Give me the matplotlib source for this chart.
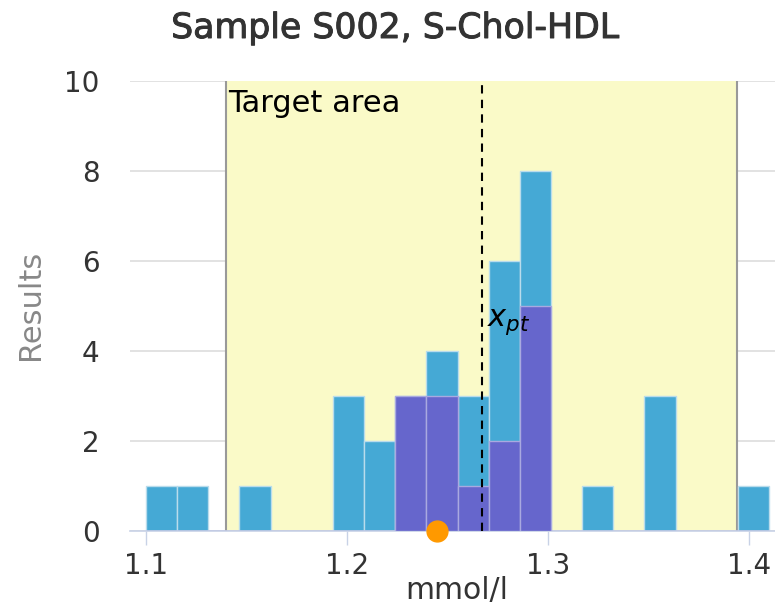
import numpy as np
import matplotlib
matplotlib.use("Agg")
import matplotlib.pyplot as plt
import matplotlib.patheffects as pe

# histogram: 20 bins over 1.10 .. 1.41
bin_lo = 1.10
bin_hi = 1.41
n_bins = 20
all_counts = [1, 1, 0, 1, 0, 0, 3, 2, 3, 4, 3, 6, 8, 0, 1, 0, 3, 0, 0, 1]
sub_counts = [0, 0, 0, 0, 0, 0, 0, 0, 3, 3, 1, 2, 5, 0, 0, 0, 0, 0, 0, 0]

target_lo = 1.14
target_hi = 1.394
x_pt = 1.2673
own_result = 1.2449

title = "Sample S002, S-Chol-HDL"
xlab = "mmol/l"
ylab = "Results"

blue = "#45a9d5"
purple = "#6666cc"
yellow = "#fafac8"

edges = np.linspace(bin_lo, bin_hi, n_bins + 1)
width = edges[1] - edges[0]

fig = plt.figure(figsize=(7.75, 6.15), dpi=100)
ax = fig.add_axes([130/775, 1-531/615, 645/775, 450/615])

ax.set_xlim(1.1 - 16/2010, 1.1 + 629/2010)
ax.set_ylim(0, 10)

for y in range(0, 11, 2):
    ax.axhline(y, color="#dddddd", lw=1.2, zorder=0)

ax.fill_between([target_lo, target_hi], 0, 10, color=yellow, zorder=1, lw=0)
ax.axvline(target_lo, ymin=0, ymax=1, color="#999999", lw=1.5, zorder=1.5)
ax.axvline(target_hi, ymin=0, ymax=1, color="#999999", lw=1.5, zorder=1.5)

ax.bar(edges[:-1], all_counts, width=width, align="edge", color=blue,
       edgecolor="#b9dcec", lw=1, zorder=2)
ax.bar(edges[:-1], sub_counts, width=width, align="edge", color=purple,
       edgecolor="#a9a9e0", lw=1, zorder=3)

ax.axvline(x_pt, color="black", lw=1.5, ls=(0, (4, 3)), zorder=4)
ax.text(x_pt + 0.0025, 4.65, r"$x_{pt}$", fontsize=22, va="center", zorder=5)
ax.text(target_lo + 0.001, 9.5, "Target area", fontsize=22, va="center", zorder=5)

ax.plot([own_result], [0], "o", color="#ff9900", ms=15, clip_on=False, zorder=6)

ax.set_yticks(range(0, 11, 2))
ax.set_xticks([1.1, 1.2, 1.3, 1.4])
ax.set_xticklabels(["1.1", "1.2", "1.3", "1.4"])
ax.tick_params(axis="y", length=0, labelsize=20, labelcolor="#333333", pad=22)
ax.tick_params(axis="x", length=10, width=1, color="#c8d2e6", labelsize=20,
               labelcolor="#333333", pad=5)
for s in ["top", "right", "left"]:
    ax.spines[s].set_visible(False)
ax.spines["bottom"].set_color("#c8d2e6")
ax.spines["bottom"].set_linewidth(1.2)

fig.text(30/775, 1-305/615, ylab, fontsize=22, color="#888888", rotation=90,
         ha="center", va="center")
fig.text(457/775, 1-590/615, xlab, fontsize=21.5, color="#333333", ha="center", va="center")
fig.text(395/775, 1-28/615, title, fontsize=25, color="#333333", ha="center",
         va="center", path_effects=[pe.withStroke(linewidth=0.7, foreground="#333333")])

fig.savefig("out.png", dpi=100)
